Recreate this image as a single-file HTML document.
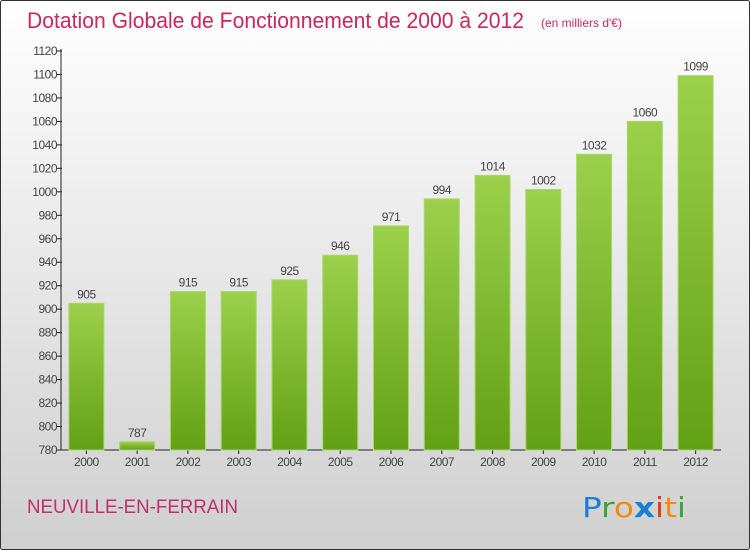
<!DOCTYPE html>
<html><head><meta charset="utf-8"><style>
body{margin:0}
#c{width:750px;height:550px;position:relative;overflow:hidden;font-family:"Liberation Sans","DejaVu Sans",sans-serif}
</style></head><body>
<div id="c">
<svg id="s" width="750" height="550" xmlns="http://www.w3.org/2000/svg">
<defs>
<linearGradient id="bg" x1="0" y1="0" x2="0" y2="1"><stop offset="0" stop-color="#ffffff"/><stop offset="1" stop-color="#cfcfcf"/></linearGradient>
<linearGradient id="bar" x1="0" y1="0" x2="0" y2="1"><stop offset="0" stop-color="#9cd04c"/><stop offset="1" stop-color="#62a014"/></linearGradient>
</defs>
<rect x="0.5" y="0.5" width="749" height="549" fill="url(#bg)" stroke="#333" stroke-width="1" rx="2"/>
<text x="27" y="28" font-size="22" fill="#c8285a" textLength="497" lengthAdjust="spacingAndGlyphs">Dotation Globale de Fonctionnement de 2000 à 2012</text>
<text x="541" y="27" font-size="12" fill="#c8285a">(en milliers d'€)</text>
<text x="27" y="513" font-size="19" fill="#c0306a" textLength="211" lengthAdjust="spacingAndGlyphs">NEUVILLE-EN-FERRAIN</text>
<g font-size="28" font-family="'DejaVu Sans',sans-serif">
<text x="582" y="517" textLength="104" lengthAdjust="spacingAndGlyphs"><tspan fill="#1a7fd4">P</tspan><tspan fill="#3aa33a">r</tspan><tspan fill="#f08a14">o</tspan><tspan fill="#1a7fd4" font-weight="bold">x</tspan><tspan fill="#e03a1a">i</tspan><tspan fill="#f08a14">t</tspan><tspan fill="#3aa33a">i</tspan></text>
</g>
<g id="axes"></g><g id="bars"></g>
</svg>
</div>
<script>
const categories=["2000","2001","2002","2003","2004","2005","2006","2007","2008","2009","2010","2011","2012"];
const values=[905,787,915,915,925,946,971,994,1014,1002,1032,1060,1099];
const yTicks=[780,800,820,840,860,880,900,920,940,960,980,1000,1020,1040,1060,1080,1100,1120];
const NS="http://www.w3.org/2000/svg";
const x0=61,x1=721,yTop=51,yBot=450,vMin=780,vMax=1120;
const step=(x1-x0)/categories.length;
function y(v){return yBot-(v-vMin)/(vMax-vMin)*(yBot-yTop);}
function xc(i){return x0+step*(i+0.5);}
function mk(t,a,p){const e=document.createElementNS(NS,t);for(const k in a)e.setAttribute(k,a[k]);p.appendChild(e);return e;}
const ax=document.getElementById('axes'),bs=document.getElementById('bars');
let l=mk('line',{x1:x0,y1:yTop-2,x2:x0,y2:yBot,stroke:'#222'},ax);


l=mk('line',{x1:x0,y1:yBot,x2:x1,y2:yBot,stroke:'#222'},ax);


yTicks.forEach(v=>{
 mk('line',{x1:x0-4,y1:y(v),x2:x0+1,y2:y(v),stroke:'#222'},ax);
 const t=mk('text',{x:x0-4,y:y(v)+4,'text-anchor':'end','font-size':12,fill:'#444','letter-spacing':'-0.5'},ax);
 t.textContent=v;
 
 
});
categories.forEach((c,i)=>{
 mk('line',{x1:xc(i),y1:yBot,x2:xc(i),y2:yBot+4,stroke:'#222'},ax);
 const t=mk('text',{x:xc(i),y:yBot+16,'text-anchor':'middle','font-size':12,fill:'#444','letter-spacing':'-0.5'},ax);
 t.textContent=c;
 
 
 const bw=35,v=values[i];
 const r=mk('rect',{x:xc(i)-bw/2,y:y(v),width:bw,height:yBot-y(v),fill:'url(#bar)',stroke:'#a8d86a','stroke-width':1},bs);
 
 
 const vl=mk('text',{x:xc(i),y:y(v)-5,'text-anchor':'middle','font-size':12,fill:'#444','letter-spacing':'-0.5'},bs);
 vl.textContent=v;
 
 
});
</script>
</body></html>
